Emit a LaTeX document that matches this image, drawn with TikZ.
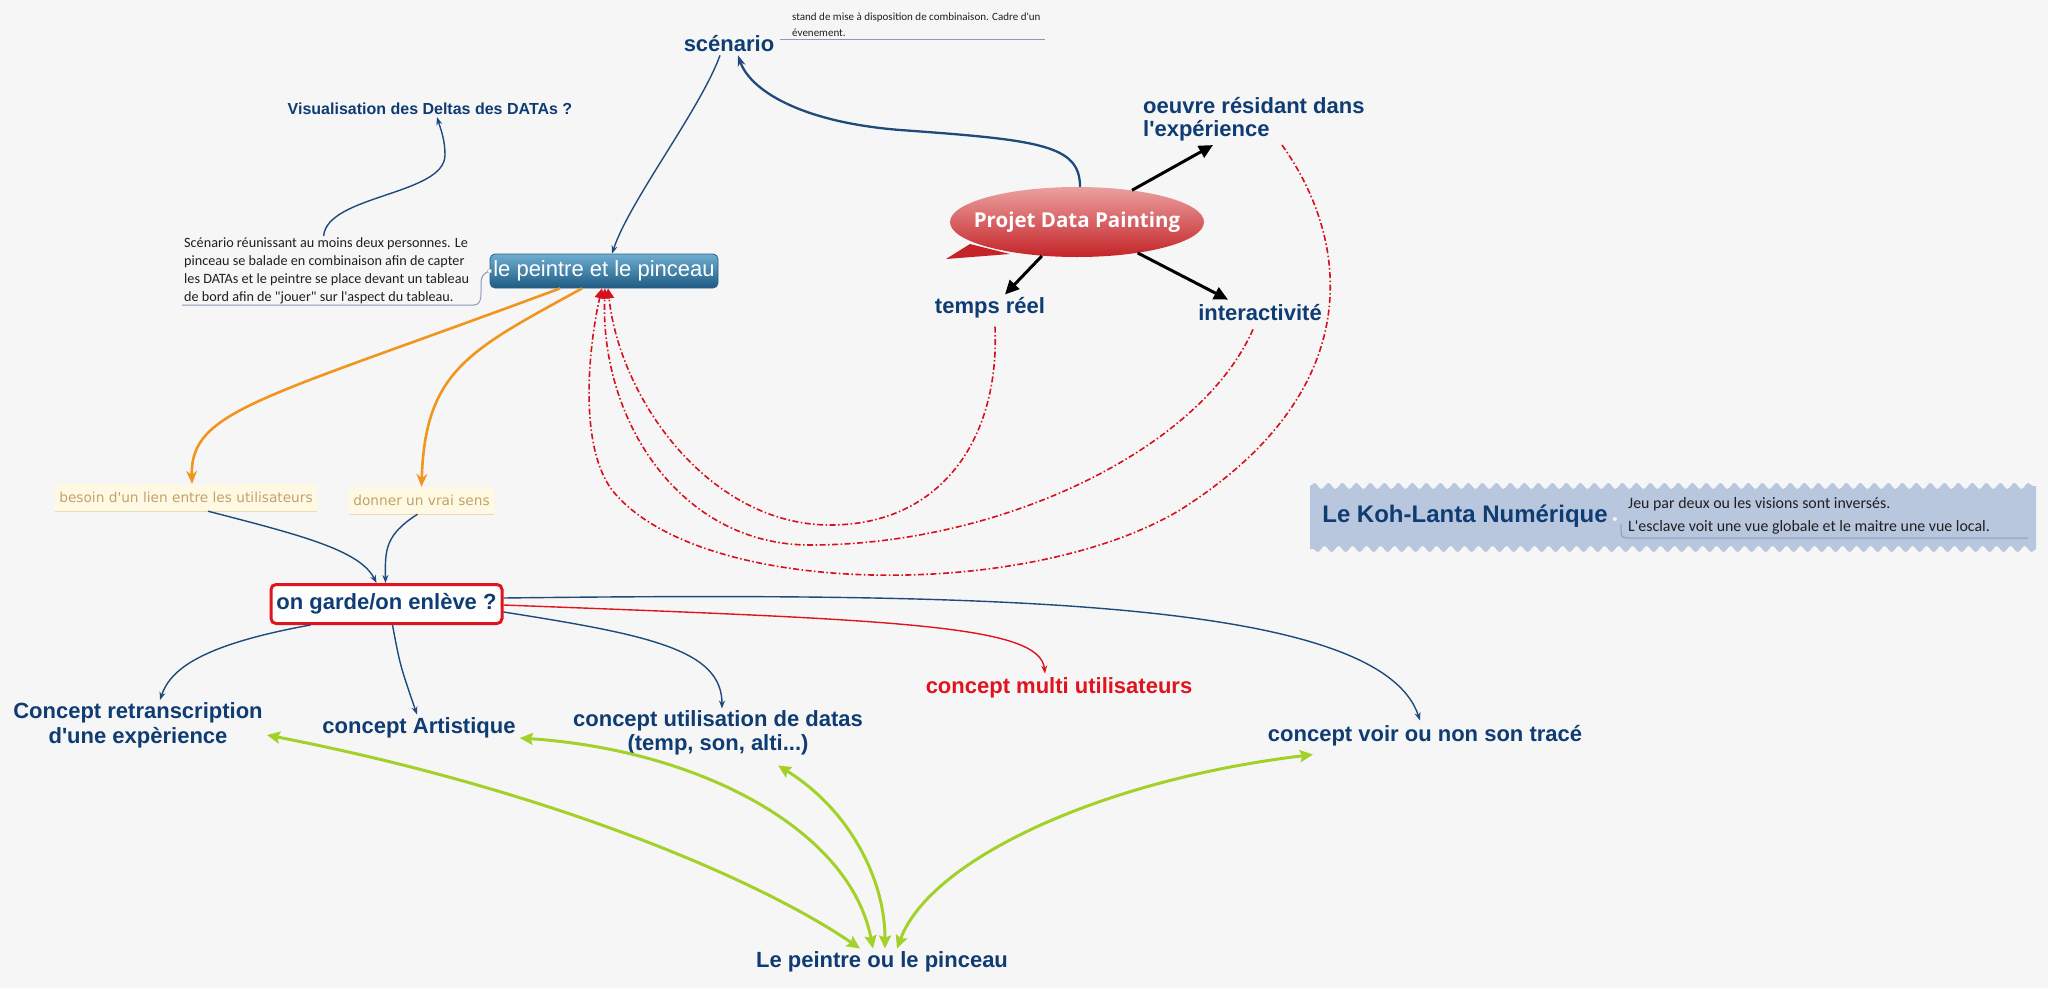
\documentclass[tikz,border=0pt]{standalone}
\usepackage{fontspec}
\setmainfont{Liberation Sans}
\newfontfamily\calfont{Carlito}
\newfontfamily\verfont{DejaVu Sans}
\newfontfamily\segfont{Open Sans}
\newcommand\aq{\textquotesingle}
\usetikzlibrary{arrows.meta,shapes.geometric,decorations.pathmorphing,calc}
\definecolor{dkblue}{HTML}{0F3C73}
\definecolor{lnblue}{HTML}{1F4A7A}
\definecolor{orng}{HTML}{F0961E}
\definecolor{redd}{HTML}{D6101C}
\definecolor{redtxt}{HTML}{E0141E}
\definecolor{grn}{HTML}{A2D12A}
\definecolor{tantxt}{HTML}{C2A26A}
\definecolor{cream}{HTML}{FFF9E3}
\definecolor{creamln}{HTML}{E9DCB2}
\definecolor{kohfill}{HTML}{B9C7DE}
\definecolor{bgc}{HTML}{F6F6F6}
\definecolor{notegray}{HTML}{8A9CB4}
\definecolor{boxtop}{HTML}{6FAED0}
\definecolor{boxbot}{HTML}{1E5A82}
\definecolor{boxbd}{HTML}{2A5F86}
\definecolor{projtop}{HTML}{EBA0A0}
\definecolor{projbot}{HTML}{C42428}
\begin{document}
\begin{tikzpicture}[x=1pt,y=-1pt,
  title/.style={inner sep=0pt, text=dkblue, font=\fontsize{22}{25}\selectfont\bfseries},
  bl/.style={draw=lnblue, line width=1.4pt, -{Stealth[length=8pt,width=6pt]}},
  orarrow/.style={draw=orng, line width=2.6pt, -{Stealth[length=13pt,width=11pt]}},
  rdarrow/.style={draw=redd, line width=1.6pt, dash pattern=on 6pt off 2.5pt on 1.5pt off 2.5pt, -{Triangle[length=10pt,width=10pt]}},
  bkarrow/.style={draw=black, line width=3pt, -{Triangle[length=14pt,width=13pt]}},
  grarrow/.style={draw=grn, line width=3pt, {Stealth[length=13pt,width=12pt,inset=2pt]}-{Stealth[length=13pt,width=12pt,inset=2pt]}},
  notetxt/.style={inner sep=0pt, align=left, text=black!88},
  noteline/.style={draw=notegray, line width=1pt},
  strip/.style={inner sep=0pt, fill=cream, text=tantxt, font=\verfont\fontsize{13.7}{15}\selectfont}
]
\useasboundingbox (0,0) rectangle (2048,988);
\fill[bgc] (0,0) rectangle (2048,988);

% Koh-Lanta wavy box
\fill[kohfill] (1310,486) decorate[decoration={snake,segment length=14pt,amplitude=3pt}]{-- (2036,486)} -- (2036,549) decorate[decoration={snake,segment length=14pt,amplitude=3pt}]{-- (1310,549)} -- cycle;

% speech bubble: shape, then its text
\fill[projbot] (970,244) -- (946,259) -- (1010,254) -- cycle;
\node[ellipse, minimum width=254pt, minimum height=70pt, inner sep=0pt, top color=projtop, bottom color=projbot] (proj) at (1077,222) {};
\node[inner sep=0pt, text=white, font={\segfont\fontsize{20.5}{22}\selectfont\bfseries}] (projtxt) at (proj.center) {Projet Data Painting};

% nodes
\node[title] (scen) at (729,44) {scénario};
\node[notetxt, anchor=north west, font=\calfont\fontsize{11}{15.5}\selectfont] (scennote) at (792,13) {stand de mise à disposition de combinaison. Cadre d\aq un\\ évenement.};
\node[title, font=\fontsize{16}{18}\selectfont\bfseries] (vis) at (430,109) {Visualisation des Deltas des DATAs ?};
\node[notetxt, anchor=north west, font=\calfont\fontsize{14.2}{18}\selectfont] (scnote) at (184,237) {Scénario réunissant au moins deux personnes. Le\\pinceau se balade en combinaison afin de capter\\les DATAs et le peintre se place devant un tableau\\de bord afin de "jouer" sur l\aq aspect du tableau.};
\node[inner sep=0pt, minimum width=228pt, minimum height=34pt, rounded corners=5pt, top color=boxtop, bottom color=boxbot, draw=boxbd, line width=0.8pt, text=white, font=\fontsize{22}{24}\selectfont] (box) at (604,271) {le peintre et le pinceau};
\node[title, anchor=west, align=left, font=\fontsize{22}{23}\selectfont\bfseries] (oeuvre) at (1143,119) {oeuvre résidant dans\\l\aq expérience};
\node[title] (temps) at (990,308) {temps réel};
\node[title] (inter) at (1260,313) {interactivité};
\node[title, font=\fontsize{24}{26}\selectfont\bfseries] (koh) at (1465,516) {Le Koh-Lanta Numérique};
\node[notetxt, anchor=north west, font=\calfont\fontsize{15.9}{23.5}\selectfont] (kohnote) at (1628,497) {Jeu par deux ou les visions sont inversés.\\L\aq esclave voit une vue globale et le maitre une vue local.};
\node[strip, minimum width=262pt, minimum height=27pt] (besoin) at (186,497.5) {besoin d\aq un lien entre les utilisateurs};
\node[strip, minimum width=145pt, minimum height=27pt] (donner) at (421.5,500.5) {donner un vrai sens};
\node[inner sep=0pt, minimum width=231pt, minimum height=39pt, rounded corners=5pt, draw=redtxt, line width=3pt, fill=white, text=dkblue, font=\fontsize{22}{24}\selectfont\bfseries] (garde) at (386.5,604) {on garde/on enlève ?};
\node[title, align=center] (retr) at (138,725) {Concept retranscription\\d\aq une expèrience};
\node[title] (art) at (419,728) {concept Artistique};
\node[title, align=center, font=\fontsize{22}{24}\selectfont\bfseries] (util) at (718,733) {concept utilisation de datas\\(temp, son, alti...)};
\node[title, text=redtxt] (multi) at (1059,688) {concept multi utilisateurs};
\node[title] (voir) at (1425,736) {concept voir ou non son tracé};
\node[title] (lepp) at (882,962) {Le peintre ou le pinceau};

% strip underlines
\draw[creamln, line width=1.2pt] (besoin.south west) -- (besoin.south east);
\draw[creamln, line width=1.2pt] (donner.south west) -- (donner.south east);

% note underlines
\draw[noteline] ([xshift=6pt,yshift=5pt]scen.east) -- (1045,39);
\draw[noteline] (182,305) -- (474,305) .. controls (480,305) and (481,299) .. (481,293) -- (481,283) .. controls (481,276) and (484,273) .. (box.west);
\draw[notegray, fill=white] (box.west) circle (2.2pt);
\draw[noteline] (1621,524) .. controls (1621,538) .. (1630,538) -- (2028,538);
\fill[white!80!kohfill] ([xshift=7pt,yshift=-3pt]koh.east) circle (2pt);

% blue connectors
\draw[bl] ([xshift=-9pt,yshift=-3pt]scen.south) .. controls (700,110) and (630,200) .. ([xshift=8pt]box.north);
\draw[bl, line width=2.3pt, -{Stealth[length=11pt,width=8pt]}] ([xshift=3pt]proj.north) .. controls (1080,145) and (1040,140) .. (900,130) .. controls (800,122) and (750,90) .. ([xshift=9pt,yshift=-3pt]scen.south);
\draw[bl] ([xshift=-3pt,yshift=1pt]scnote.north) .. controls (327,195) and (445,195) .. (445,155) .. controls (445,140) and (441,130) .. ([xshift=7pt,yshift=-2pt]vis.south);

% black arrows
\draw[bkarrow] (proj.30) -- ([xshift=70pt,yshift=-4pt]oeuvre.south west);
\draw[bkarrow] (proj.224) -- ([xshift=15pt,yshift=3pt]temps.north);
\draw[bkarrow] (proj.333) -- ([xshift=-32pt,yshift=5pt]inter.north);

% red dash-dot
\draw[rdarrow] ([xshift=5pt,yshift=-8pt]temps.south) .. controls (1000,440) and (940,525) .. (830,525) .. controls (710,525) and (620,400) .. ([xshift=4pt]box.south);
\draw[rdarrow] ([xshift=-7pt,yshift=-8pt]inter.south) .. controls (1200,450) and (1000,545) .. (810,545) .. controls (680,545) and (600,420) .. ([xshift=1pt]box.south);
\draw[rdarrow] ([xshift=139pt,yshift=-4pt]oeuvre.south west) .. controls (1350,240) and (1370,390) .. (1180,510) .. controls (1030,600) and (700,600) .. (612,490) .. controls (575,440) and (592,330) .. ([xshift=-2pt]box.south);

% orange
\draw[orarrow] ([xshift=-44pt]box.south) .. controls (260,400) and (190,410) .. ([xshift=6pt]besoin.north);
\draw[orarrow] ([xshift=-22pt]box.south) .. controls (470,350) and (425,370) .. (donner.north);

% blue to garde
\draw[bl] ([xshift=22pt]besoin.south) .. controls (300,535) and (360,550) .. ([xshift=-10pt]garde.north);
\draw[bl] ([xshift=-4pt]donner.south) .. controls (385,535) and (385,550) .. ([xshift=-1pt]garde.north);

% from garde
\draw[bl] ([xshift=-76pt]garde.south) .. controls (200,645) and (170,670) .. ([xshift=22pt,yshift=2pt]retr.north);
\draw[bl] ([xshift=6pt]garde.south) .. controls (400,665) .. ([xshift=-2pt,yshift=3pt]art.north);
\draw[bl] ([yshift=-8pt]garde.east) .. controls (650,635) and (722,650) .. ([xshift=4pt,yshift=2pt]util.north);
\draw[draw=redtxt, line width=1.4pt, -{Stealth[length=8pt,width=6pt]}] ([yshift=-1pt]garde.east) .. controls (900,620) and (1040,625) .. ([xshift=-14pt,yshift=4pt]multi.north);
\draw[bl] ([yshift=6pt]garde.east) .. controls (1000,592) and (1380,600) .. ([xshift=-5pt,yshift=5pt]voir.north);

% green double arrows
\draw[grarrow] ([xshift=4pt,yshift=-10pt]retr.east) .. controls (550,790) and (760,880) .. ([xshift=-22pt,yshift=3pt]lepp.north);
\draw[grarrow] ([xshift=4pt,yshift=-10pt]art.east) .. controls (700,750) and (850,830) .. ([xshift=-9pt,yshift=3pt]lepp.north);
\draw[grarrow] ([xshift=60pt,yshift=-10pt]util.south) .. controls (850,810) and (885,880) .. ([xshift=3pt,yshift=3pt]lepp.north);
\draw[grarrow] ([xshift=-112pt,yshift=-8pt]voir.south) .. controls (1100,780) and (930,860) .. ([xshift=15pt,yshift=3pt]lepp.north);
\end{tikzpicture}
\end{document}
